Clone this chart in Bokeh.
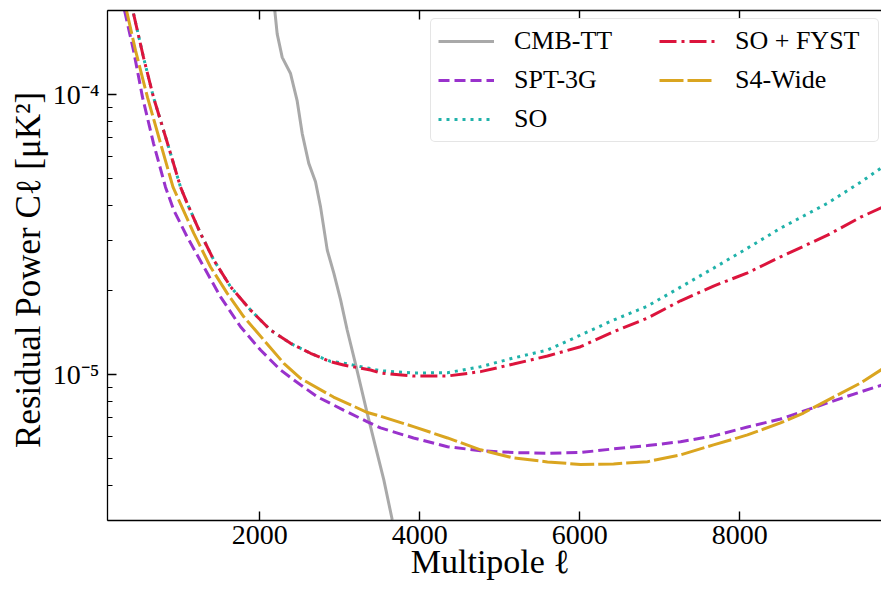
import numpy as np
from bokeh.plotting import figure
from bokeh.models import LinearAxis, FixedTicker, Legend, LegendItem, Range1d
from bokeh.embed import file_html
from bokeh.resources import INLINE

# ---------------- data ----------------
cmb_ell = [2187, 2217, 2280, 2384, 2467, 2530, 2612, 2696, 2759, 2843, 2925,
           3009, 3092, 3196, 3342, 3446, 3550, 3655]
cmb_cl = [2.0e-4, 1.65e-4, 1.36e-4, 1.19e-4, 9.5e-5, 7.26e-5, 5.68e-5, 4.88e-5,
          3.97e-5, 2.78e-5, 2.30e-5, 1.85e-5, 1.44e-5, 1.09e-5, 7.26e-6,
          5.51e-6, 4.19e-6, 3.02e-6]

spt_ell = [309, 421, 534, 671, 821, 925, 1092, 1300, 1509, 1759, 2009, 2259,
           2425, 2721, 3046, 3346, 3509, 3921, 4346, 4759, 5171, 5596, 6009,
           6421, 6846, 7259, 7671, 8096, 8509, 9096, 9509, 9780]
spt_cl = [2.0e-4, 1.44e-4, 9.78e-5, 6.70e-5, 4.67e-5, 3.86e-5, 3.10e-5, 2.42e-5,
          1.893e-5, 1.479e-5, 1.221e-5, 1.036e-5, 9.54e-6, 8.30e-6, 7.45e-6,
          6.76e-6, 6.43e-6, 5.92e-6, 5.51e-6, 5.33e-6, 5.25e-6, 5.22e-6,
          5.25e-6, 5.41e-6, 5.56e-6, 5.74e-6, 6.02e-6, 6.48e-6, 6.92e-6,
          7.90e-6, 8.65e-6, 9.16e-6]

so_ell = [421, 546, 671, 846, 1009, 1093, 1259, 1425, 1634, 1884, 2134, 2384,
          2634, 2884, 3046, 3509, 3921, 4346, 4759, 5171, 5596, 6009, 6421,
          6846, 7259, 7671, 8096, 8509, 9096, 9509, 9780]
so_cl = [1.951e-4, 1.359e-4, 9.78e-5, 6.70e-5, 4.67e-5, 4.08e-5, 3.19e-5,
         2.56e-5, 2.056e-5, 1.697e-5, 1.439e-5, 1.290e-5, 1.189e-5, 1.112e-5,
         1.097e-5, 1.030e-5, 1.011e-5, 1.013e-5, 1.064e-5, 1.144e-5, 1.221e-5,
         1.381e-5, 1.563e-5, 1.753e-5, 2.050e-5, 2.396e-5, 2.825e-5, 3.330e-5,
         4.09e-5, 4.86e-5, 5.50e-5]

sofyst_ell = [421, 546, 671, 846, 1009, 1093, 1259, 1425, 1634, 1884, 2134,
              2384, 2634, 2884, 3046, 3384, 3509, 3921, 4346, 4759, 5171, 5596,
              6009, 6421, 6846, 7259, 7671, 8096, 8509, 9096, 9509, 9780]
sofyst_cl = [1.951e-4, 1.359e-4, 9.78e-5, 6.70e-5, 4.67e-5, 4.08e-5, 3.19e-5,
             2.56e-5, 2.056e-5, 1.697e-5, 1.439e-5, 1.290e-5, 1.189e-5,
             1.109e-5, 1.079e-5, 1.036e-5, 1.011e-5, 9.86e-6, 9.86e-6,
             1.022e-5, 1.088e-5, 1.163e-5, 1.255e-5, 1.419e-5, 1.589e-5,
             1.832e-5, 2.067e-5, 2.306e-5, 2.63e-5, 3.144e-5, 3.645e-5,
             3.958e-5]

s4_ell = [334, 446, 596, 759, 915, 1175, 1384, 1593, 1800, 2050, 2300, 2509,
          2921, 3346, 3509, 3921, 4346, 4759, 5171, 5596, 6009, 6421, 6846,
          7259, 7671, 8096, 8509, 8796, 9171, 9509, 9780]
s4_cl = [2.0e-4, 1.44e-4, 9.78e-5, 6.70e-5, 4.67e-5, 3.19e-5, 2.42e-5, 1.947e-5,
         1.606e-5, 1.326e-5, 1.095e-5, 9.67e-6, 8.29e-6, 7.30e-6, 7.08e-6,
         6.50e-6, 5.92e-6, 5.37e-6, 5.02e-6, 4.86e-6, 4.76e-6, 4.78e-6,
         4.87e-6, 5.15e-6, 5.59e-6, 6.07e-6, 6.70e-6, 7.27e-6, 8.29e-6,
         9.31e-6, 1.044e-5]

x_ticks = [2000, 4000, 6000, 8000]
y_major = [1e-5, 1e-4]
y_minor = [3e-6, 4e-6, 5e-6, 6e-6, 7e-6, 8e-6, 9e-6,
           2e-5, 3e-5, 4e-5, 5e-5, 6e-5, 7e-5, 8e-5, 9e-5, 2e-4]
y_labels = {1e-5: "10\u207b\u2075", 1e-4: "10\u207b\u2074"}

FONT = "Liberation Serif"

# ---------------- figure ----------------
p = figure(width=881, height=590, y_axis_type="log",
           x_range=Range1d(96, 9771), y_range=Range1d(3e-6, 2e-4),
           output_backend="svg", toolbar_location=None,
           min_border_left=107, min_border_right=0, min_border_top=10,
           min_border_bottom=70)
p.outline_line_color = None
p.grid.visible = False

LW = 3
r_cmb = p.line(cmb_ell, cmb_cl, line_color="#A9A9A9", line_width=LW)
r_spt = p.line(spt_ell, spt_cl, line_color="#9932CC", line_width=LW,
               line_dash="11 5")
r_so = p.line(so_ell, so_cl, line_color="#20B2AA", line_width=LW,
              line_dash="3 5")
r_fy = p.line(sofyst_ell, sofyst_cl, line_color="#DC143C", line_width=LW,
              line_dash="17 5 3 5")
r_s4 = p.line(s4_ell, s4_cl, line_color="#DAA520", line_width=LW,
              line_dash="24 4")

# ---------------- axes ----------------
xa = p.xaxis[0]
xa.ticker = FixedTicker(ticks=x_ticks)
xa.axis_label = "Multipole  \u2113"
ya = p.yaxis[0]
ya.ticker = FixedTicker(ticks=y_major, minor_ticks=y_minor)
ya.major_label_overrides = y_labels
ya.axis_label = "Residual Power  C\u2113 [\u03bcK\u00b2]"

for ax in (xa, ya):
    ax.axis_line_width = 1.3
    ax.axis_line_color = "black"
    ax.major_tick_in = 9
    ax.major_tick_out = 0
    ax.major_tick_line_width = 1.4
    ax.minor_tick_in = 5
    ax.minor_tick_out = 0
    ax.minor_tick_line_width = 1.2
    ax.major_label_text_font = FONT
    ax.major_label_text_font_size = "28px"
    ax.major_label_text_color = "black"
    ax.axis_label_text_font = FONT
    ax.axis_label_text_font_style = "normal"
    ax.axis_label_text_color = "black"

xa.axis_label_text_font_size = "34px"
ya.axis_label_text_font_size = "35px"
xa.minor_tick_in = 0
xa.major_label_standoff = 5
xa.axis_label_standoff = -4
ya.major_label_standoff = 8
ya.axis_label_standoff = 2

top = LinearAxis(ticker=FixedTicker(ticks=x_ticks),
                 major_label_overrides={t: "" for t in x_ticks},
                 major_label_text_font_size="1px", major_label_standoff=0,
                 major_tick_in=9, major_tick_out=0, major_tick_line_width=1.4,
                 minor_tick_in=0, minor_tick_out=0,
                 axis_line_width=1.3, axis_line_color="black")
p.add_layout(top, "above")

# ---------------- legend ----------------
legend = Legend(
    items=[LegendItem(label="CMB-TT", renderers=[r_cmb]),
           LegendItem(label="SPT-3G", renderers=[r_spt]),
           LegendItem(label="SO", renderers=[r_so]),
           LegendItem(label="SO + FYST", renderers=[r_fy]),
           LegendItem(label="S4-Wide", renderers=[r_s4])],
    ncols=2, location=(323, 378),
    label_text_font=FONT, label_text_font_size="26px", label_text_color="black",
    glyph_width=56, glyph_height=20, label_standoff=20, label_width=136,
    spacing=9, padding=7, margin=0,
    border_line_color="#CCCCCC", border_line_width=1.2,
    background_fill_color="white", background_fill_alpha=1.0,
)
if "border_radius" in Legend.properties():
    legend.border_radius = 5
p.add_layout(legend)

open("out.html", "w").write(file_html(p, INLINE))
